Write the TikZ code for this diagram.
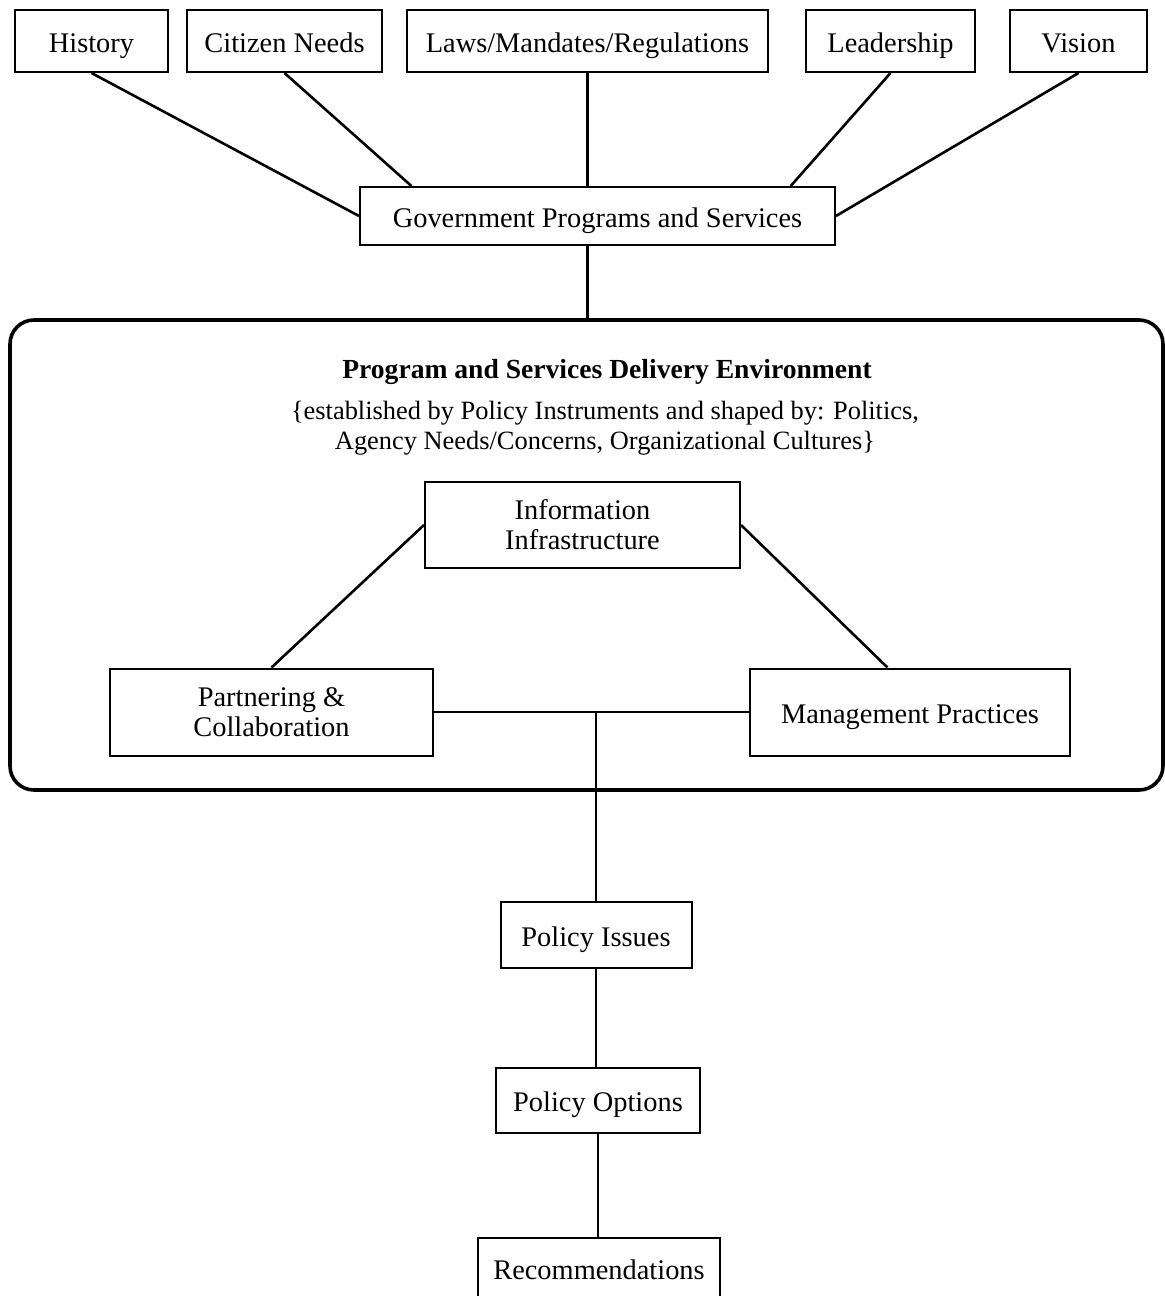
\documentclass[tikz,border=0pt]{standalone}
\usepackage{fontspec}
\setmainfont{Liberation Serif}
\usetikzlibrary{calc}

\tikzset{
  box/.style={draw, line width=1pt, inner sep=0pt, align=center,
    font=\fontsize{14.2}{15}\selectfont},
  oneline/.style={box, text height=11pt, text depth=0pt},
  link/.style={line width=1.3pt}
}

\begin{document}
\begin{tikzpicture}[x=0.5pt,y=-0.5pt]
\path[fill=white] (0,0) rectangle (1165,1296);
\useasboundingbox (0,0) rectangle (1165,1296);
% sources
\node[oneline, minimum width=76.5pt, minimum height=31pt] (hist) at (91.5,41) {History};
\node[oneline, minimum width=97.5pt, minimum height=31pt] (citz) at (284.5,41) {Citizen Needs};
\node[oneline, minimum width=180.5pt, minimum height=31pt] (laws) at (587.5,41) {Laws/Mandates/Regulations};
\node[oneline, minimum width=84.5pt, minimum height=31pt] (lead) at (890.5,41) {Leadership};
\node[oneline, minimum width=68.5pt, minimum height=31pt] (visn) at (1078.5,41) {Vision};
\node[oneline, minimum width=237.5pt, minimum height=29pt] (gov) at (597.5,216) {Government Programs and Services};
\draw[link] (hist.south) -- (gov.west);
\draw[link] (citz.south) -- ($(gov.north west)!0.11!(gov.north east)$);
\draw[link] (laws.south) -- (laws.south |- gov.north);
\draw[link] (lead.south) -- ($(gov.north west)!0.905!(gov.north east)$);
\draw[link] (visn.south) -- (gov.east);
% delivery environment
\node[draw, line width=1.8pt, rounded corners=12pt, minimum width=576.5pt, minimum height=235pt] (env) at (586.5,555) {};
\draw[link] (laws.south |- gov.south) -- (laws.south |- env.north);
\node[font=\fontsize{13.8}{15}\selectfont\bfseries] (envtitle) at (607,372) {Program and Services Delivery Environment};
\node[align=center, font=\fontsize{13.2}{15}\selectfont] (envnote) at (605,428)
  {\{established by Policy Instruments and shaped by: Politics,\\
   Agency Needs/Concerns, Organizational Cultures\}};
\node[box, minimum width=157.5pt, minimum height=43pt] (info) at (582.5,525) {Information\\Infrastructure};
\node[box, minimum width=161.5pt, minimum height=43.5pt] (part) at (271.5,712) {Partnering \&\\Collaboration};
\node[oneline, minimum width=160pt, minimum height=43.5pt] (mgmt) at (910,712) {Management Practices};
\draw[link] (info.west) -- (part.north);
\draw[link] (info.east) -- ($(mgmt.north west)!0.43!(mgmt.north east)$);
\draw[link] (part.east) -- (mgmt.west);
% policy chain
\node[oneline, minimum width=95.5pt, minimum height=33pt] (iss) at (596,935) {Policy Issues};
\node[oneline, minimum width=102pt, minimum height=32.5pt] (opt) at (598,1100.5) {Policy Options};
\node[oneline, minimum width=121pt, minimum height=30pt] (rec) at (599,1268) {Recommendations};
\coordinate (split) at (iss.north |- part.east);
\draw[link] (split) -- (iss.north);
\draw[link] (iss.south) -- (iss.south |- opt.north);
\draw[link] (opt.south) -- (opt.south |- rec.north);
\end{tikzpicture}
\end{document}
